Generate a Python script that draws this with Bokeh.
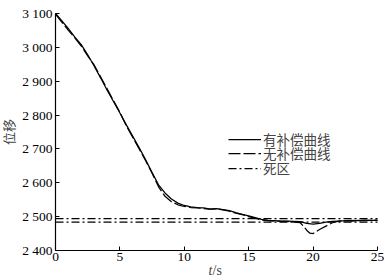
from bokeh.plotting import figure
from bokeh.models import Range1d, FixedTicker, Legend, LegendItem, Label
from bokeh.embed import file_html
from bokeh.resources import INLINE

# ---- data ----
t_comp = [0, 0.5, 1, 1.5, 2, 2.5, 3, 3.5, 4, 4.5, 5, 5.5, 6, 6.5, 7, 7.5, 8, 8.5, 9, 9.5,
          10, 10.5, 11, 11.5, 12, 12.5, 13, 13.5, 14, 14.5, 15, 15.5, 16, 16.5, 17, 17.5,
          18, 18.5, 19, 19.5, 20, 20.5, 21, 21.5, 22, 22.5, 23, 23.5, 24, 24.5, 25]
v_comp = [3100, 3078, 3055, 3030, 3008, 2978, 2945, 2910, 2874, 2840, 2806, 2771, 2737, 2703,
          2668, 2630, 2594, 2570, 2552, 2540, 2533, 2529, 2527, 2526, 2522, 2524, 2521, 2518,
          2512, 2507, 2502, 2497, 2492, 2489, 2488, 2487, 2487, 2486, 2485, 2480, 2478, 2480,
          2484, 2486, 2487, 2488, 2487, 2489, 2488, 2489, 2489]

t_nocomp = [0, 0.5, 1, 1.5, 2, 2.5, 3, 3.5, 4, 4.5, 5, 5.5, 6, 6.5, 7, 7.5, 8, 8.5, 9, 9.5,
            10, 10.5, 11, 11.5, 12, 12.5, 13, 13.5, 14, 14.5, 15, 15.5, 16, 16.5, 17, 17.5,
            18, 18.5, 19, 19.25, 19.5, 19.75, 20, 20.25, 20.5, 21, 21.5, 22, 22.5, 23, 23.5,
            24, 24.5, 25]
v_nocomp = [3098, 3074, 3050, 3028, 3004, 2975, 2948, 2913, 2878, 2843, 2808, 2768, 2734, 2700,
            2665, 2628, 2588, 2560, 2544, 2535, 2530, 2527, 2526, 2524, 2522, 2523, 2520, 2516,
            2510, 2506, 2500, 2495, 2490, 2488, 2487, 2486, 2486, 2484, 2482, 2472, 2460, 2451,
            2450, 2456, 2462, 2472, 2482, 2487, 2488, 2489, 2488, 2490, 2489, 2490]

dead_zone_t = [0, 25]
dead_zone_upper = 2494
dead_zone_lower = 2484

x_min, x_max = 0, 25
y_min, y_max = 2400, 3100
y_ticks = [2400, 2500, 2600, 2700, 2800, 2900, 3000, 3100]
y_tick_labels = ["2 400", "2 500", "2 600", "2 700", "2 800", "2 900", "3 000", "3 100"]
x_ticks = [0, 5, 10, 15, 20, 25]

series_labels = ["有补偿曲线", "无补偿曲线", "死区"]
y_title = "位移"
x_title_var = "t"
x_title_unit = "/s"

SERIF = "Liberation Serif"
CJK = "Liberation Serif, Noto Sans CJK SC"

# the frame covers the whole canvas; both axes are pinned at the data origin
W, H = 390, 280
px_x = 322 / 25.0        # pixels per second
px_y = 237 / 700.0       # pixels per unit
x0 = -55 / px_x
y1 = y_max + 13 / px_y
p = figure(width=W, height=H, output_backend="svg", toolbar_location=None,
           x_range=Range1d(x0, x0 + W / px_x), y_range=Range1d(y1 - H / px_y, y1),
           min_border=0)
p.outline_line_color = None
p.xgrid.visible = False
p.ygrid.visible = False
p.background_fill_color = "white"
p.border_fill_color = "white"

lw = 1.25
r1 = p.line(t_comp, v_comp, line_color="black", line_width=lw)
r2 = p.line(t_nocomp, v_nocomp, line_color="black", line_width=lw, line_dash="12 3")
r3 = p.multi_line(xs=[dead_zone_t, dead_zone_t],
                  ys=[[dead_zone_upper] * 2, [dead_zone_lower] * 2],
                  line_color="black", line_width=lw, line_dash="8 3 2 3")

for ax in (p.xaxis[0], p.yaxis[0]):
    ax.axis_line_color = "black"
    ax.axis_line_width = 1.2
    ax.major_tick_in = 4
    ax.major_tick_out = 0
    ax.major_tick_line_color = "black"
    ax.minor_tick_line_color = None
    ax.major_label_text_font = SERIF
    ax.major_label_text_font_size = "13.5px"
    ax.major_label_text_color = "black"

p.xaxis[0].ticker = FixedTicker(ticks=x_ticks)
p.xaxis[0].major_label_standoff = 2
p.xaxis[0].fixed_location = y_min
p.xaxis[0].bounds = (x_min, x_max)
p.yaxis[0].ticker = FixedTicker(ticks=y_ticks)
p.yaxis[0].fixed_location = x_min
p.yaxis[0].bounds = (y_min, y_max)
p.yaxis[0].major_label_overrides = dict(zip(y_ticks, y_tick_labels))
p.yaxis[0].major_label_standoff = 3
p.yaxis[0].axis_label = y_title
p.yaxis[0].axis_label_text_font = CJK
p.yaxis[0].axis_label_text_font_size = "13px"
p.yaxis[0].axis_label_text_font_style = "normal"
p.yaxis[0].axis_label_standoff = 2

# x-axis title "t/s" with italic t
p.add_layout(Label(x=12.19, y=2341, text=x_title_var,
                   text_font=SERIF, text_font_style="italic", text_font_size="14px",
                   text_align="right", text_baseline="middle"))
p.add_layout(Label(x=12.19, y=2341, text=x_title_unit,
                   text_font=SERIF, text_font_size="14px",
                   text_align="left", text_baseline="middle"))

# one single-row legend per series, so the rows can sit close together
renderers = [r1, r2, r3]
row_bottoms = [131, 117, 102]
for lab, r, yb in zip(series_labels, renderers, row_bottoms):
    lg = Legend(items=[LegendItem(label=lab, renderers=[r])], location=(228, yb))
    lg.border_line_color = None
    lg.background_fill_alpha = 0
    lg.padding = 0
    lg.margin = 0
    lg.spacing = 0
    lg.glyph_width = 33
    lg.glyph_height = 14
    lg.label_height = 14
    lg.label_standoff = 2
    lg.label_text_font = CJK
    lg.label_text_font_size = "13.5px"
    p.add_layout(lg)

open("out.html", "w").write(file_html(p, INLINE))
